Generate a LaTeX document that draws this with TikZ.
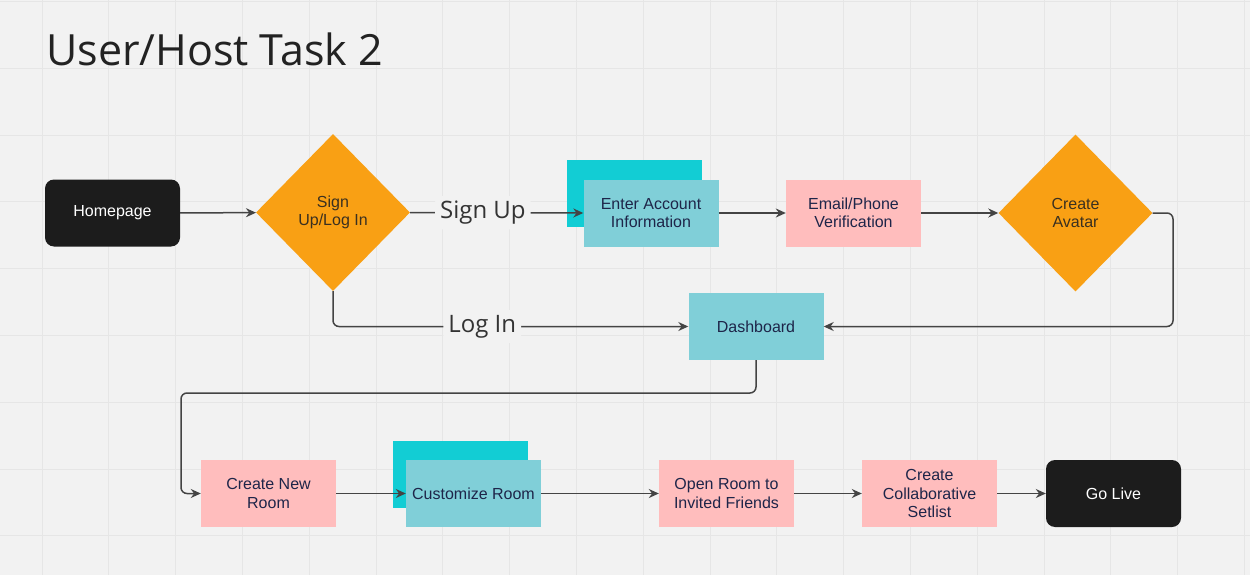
\documentclass[tikz,border=0pt]{standalone}
\usepackage{fontspec}
\setmainfont{Liberation Sans}
\newfontfamily\opensans{Open Sans}
\usetikzlibrary{shapes.geometric,arrows.meta}
\definecolor{bg}{HTML}{F2F2F2}
\definecolor{gridc}{HTML}{E6E6E6}
\definecolor{orangec}{HTML}{F9A014}
\definecolor{dcyan}{HTML}{12CDD4}
\definecolor{lcyan}{HTML}{80CFD8}
\definecolor{pinkc}{HTML}{FFBDBD}
\definecolor{blackc}{HTML}{1C1C1C}
\definecolor{navy}{HTML}{1E2549}
\definecolor{diatext}{HTML}{3A3020}
\definecolor{connc}{HTML}{444444}
\definecolor{lblc}{HTML}{333333}
\definecolor{titlec}{HTML}{222222}
\begin{document}
\begin{tikzpicture}[x=1pt,y=-1pt,
  box/.style={rectangle, minimum width=135pt, minimum height=67pt, inner sep=0pt, align=center, text=navy, font=\fontsize{16}{18.5}\selectfont},
  pinkbox/.style={box, fill=pinkc},
  cyanbox/.style={box, fill=lcyan},
  shadowbox/.style={rectangle, minimum width=135pt, minimum height=67pt, inner sep=0pt, fill=dcyan},
  termbox/.style={box, fill=blackc, text=white, rounded corners=9pt},
  decision/.style={diamond, fill=orangec, minimum width=154pt, minimum height=157pt, inner sep=0pt, align=center, text=diatext, font=\fontsize{16}{18.5}\selectfont},
  conn/.style={draw=connc, line width=1.5pt, -{Stealth[length=10pt,width=9pt]}, rounded corners=6pt},
  lbl/.style={fill=bg, font=\opensans\fontsize{24}{28}\selectfont, text=lblc, inner sep=5pt}
]
\fill[bg] (0,0) rectangle (1250,575);
\useasboundingbox (0,0) rectangle (1250,575);
\foreach \i in {0,...,18} \draw[gridc, line width=1pt] ({42+66.8*\i},0) -- ({42+66.8*\i},575);
\foreach \j in {0,...,8} \draw[gridc, line width=1pt] (0,{1.5+66.8*\j}) -- (1250,{1.5+66.8*\j});

\node[anchor=base west, font=\opensans\fontsize{43}{50}\selectfont, text=titlec, inner sep=0pt] (title) at (46,65.5) {User/Host Task 2};

\node[termbox] (home) at (112.5,213) {Homepage};
\node[decision] (signup) at (333,212.5) {Sign\\Up/Log In};
\node[shadowbox] (entershadow) at (634.5,193) {};
\node[cyanbox] (enter) at (651,213) {Enter Account\\Information};
\node[pinkbox] (email) at (853.5,213) {Email/Phone\\Verification};
\node[decision] (avatar) at (1075.5,213) {Create\\Avatar};
\node[cyanbox] (dash) at (756,326.5) {Dashboard};
\node[pinkbox] (newroom) at (268.5,493.5) {Create New\\Room};
\node[shadowbox] (custshadow) at (460,474.5) {};
\node[cyanbox] (cust) at (473.5,493.5) {Customize Room};
\node[pinkbox] (open) at (726.5,493.5) {Open Room to\\Invited Friends};
\node[pinkbox] (collab) at (929.5,493.5) {Create\\Collaborative\\Setlist};
\node[termbox] (golive) at (1113.5,493.5) {Go Live};

\coordinate (c1) at (1173,213);
\coordinate (c2) at (181,393);

\draw[conn] (home) -- (signup);
\draw[conn] (signup.east) -- node[lbl, pos=0.42] {Sign Up} (enter.west);
\draw[conn] (enter) -- (email);
\draw[conn] (email) -- (avatar);
\draw[conn] (avatar.east) -- (c1) |- (dash.east);
\draw[conn] (signup.south) |- node[lbl, pos=0.71] {Log In} (dash.west);
\draw[conn] (dash.south) |- (c2) |- (newroom.west);
\draw[conn] (newroom) -- (cust);
\draw[conn] (cust) -- (open);
\draw[conn] (open) -- (collab);
\draw[conn] (collab) -- (golive);
\end{tikzpicture}
\end{document}
